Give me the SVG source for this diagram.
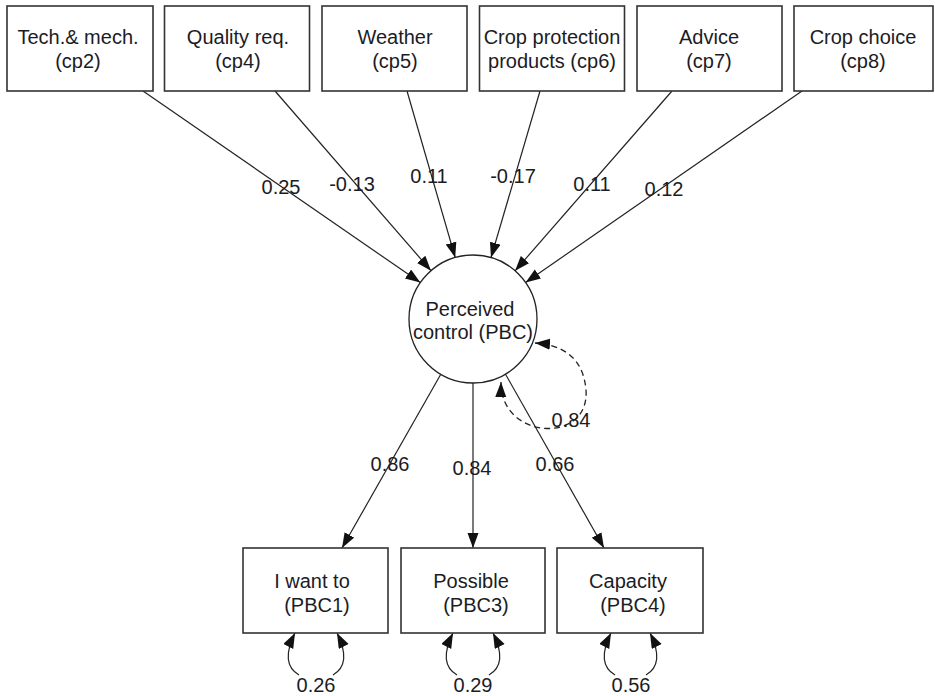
<svg xmlns="http://www.w3.org/2000/svg" width="935" height="696" viewBox="0 0 935 696">
<style>
.box{fill:#fff;stroke:#333;stroke-width:1.6}
.circ{fill:#fff;stroke:#222;stroke-width:1.3}
.t{font-family:"Liberation Sans",Arial,sans-serif;font-size:20px;fill:#1c1c24;text-anchor:middle}
.ln{fill:none;stroke:#222;stroke-width:1.2}
.dash{fill:none;stroke:#222;stroke-width:1.3;stroke-dasharray:6 4}
</style>
<defs>
<marker id="ah" markerUnits="userSpaceOnUse" markerWidth="17" markerHeight="13" refX="15" refY="5.5" orient="auto-start-reverse">
<path d="M0,0 L15,5.5 L0,11 Z" fill="#111"/>
</marker>
</defs>
<rect width="935" height="696" fill="#fff"/>
<g id="connectors">
<line class="ln" x1="143" y1="91" x2="420.3" y2="282.6" marker-end="url(#ah)"/>
<line class="ln" x1="275" y1="91" x2="431" y2="270.7" marker-end="url(#ah)"/>
<line class="ln" x1="407" y1="91" x2="455.2" y2="257.5" marker-end="url(#ah)"/>
<line class="ln" x1="540" y1="91" x2="491" y2="257.6" marker-end="url(#ah)"/>
<line class="ln" x1="672" y1="91" x2="515.1" y2="270.8" marker-end="url(#ah)"/>
<line class="ln" x1="802" y1="91" x2="525.6" y2="282.5" marker-end="url(#ah)"/>
<line class="ln" x1="440.8" y1="374.3" x2="342" y2="548" marker-end="url(#ah)"/>
<line class="ln" x1="473" y1="383" x2="473" y2="548" marker-end="url(#ah)"/>
<line class="ln" x1="505.5" y1="374.2" x2="604" y2="548" marker-end="url(#ah)"/>
<path class="dash" d="M501,382 C500,440 590,445 586,390 C583,355 560,345 535,343" marker-start="url(#ah)" marker-end="url(#ah)"/>
<path class="ln" d="M295,633 C284,655 287,668 299,675" marker-start="url(#ah)"/>
<path class="ln" d="M337,633 C348,655 345,668 333,675" marker-start="url(#ah)"/>
<path class="ln" d="M453,633 C442,655 445,668 457,675" marker-start="url(#ah)"/>
<path class="ln" d="M493,633 C504,655 501,668 489,675" marker-start="url(#ah)"/>
<path class="ln" d="M611,633 C600,655 603,668 615,675" marker-start="url(#ah)"/>
<path class="ln" d="M650,633 C661,655 658,668 646,675" marker-start="url(#ah)"/>
<text class="t" x="281" y="194">0.25</text>
<text class="t" x="352" y="191">-0.13</text>
<text class="t" x="429" y="183">0.11</text>
<text class="t" x="513" y="183">-0.17</text>
<text class="t" x="592" y="191">0.11</text>
<text class="t" x="664" y="196">0.12</text>
<text class="t" x="390" y="471">0.86</text>
<text class="t" x="472" y="475">0.84</text>
<text class="t" x="555" y="471">0.66</text>
<text class="t" x="571" y="427">0.84</text>
<text class="t" x="316" y="692">0.26</text>
<text class="t" x="473" y="692">0.29</text>
<text class="t" x="631" y="692">0.56</text>
</g>
<g id="cp2"><rect class="box" x="7" y="6" width="146" height="85"/><text class="t" x="78" y="44">Tech.&amp; mech.</text><text class="t" x="78" y="68">(cp2)</text></g>
<g id="cp4"><rect class="box" x="164.5" y="6" width="145" height="85"/><text class="t" x="238" y="44">Quality req.</text><text class="t" x="238" y="68">(cp4)</text></g>
<g id="cp5"><rect class="box" x="322" y="6" width="145" height="85"/><text class="t" x="395" y="44">Weather</text><text class="t" x="395" y="68">(cp5)</text></g>
<g id="cp6"><rect class="box" x="479.5" y="6" width="145" height="85"/><text class="t" x="552" y="44">Crop protection</text><text class="t" x="552" y="68">products (cp6)</text></g>
<g id="cp7"><rect class="box" x="637" y="6" width="145" height="85"/><text class="t" x="709" y="44">Advice</text><text class="t" x="709" y="68">(cp7)</text></g>
<g id="cp8"><rect class="box" x="794" y="6" width="139" height="85"/><text class="t" x="863" y="44">Crop choice</text><text class="t" x="863" y="68">(cp8)</text></g>
<g id="PBC"><circle class="circ" cx="473" cy="319" r="64"/><text class="t" x="470" y="316">Perceived</text><text class="t" x="473" y="339">control (PBC)</text></g>
<g id="PBC1"><rect class="box" x="243" y="548" width="145" height="85"/><text class="t" x="312" y="588">I want to</text><text class="t" x="317" y="612">(PBC1)</text></g>
<g id="PBC3"><rect class="box" x="401" y="548" width="144" height="85"/><text class="t" x="471" y="588">Possible</text><text class="t" x="476" y="612">(PBC3)</text></g>
<g id="PBC4"><rect class="box" x="557" y="548" width="146" height="85"/><text class="t" x="628" y="588">Capacity</text><text class="t" x="633" y="612">(PBC4)</text></g>
</svg>
